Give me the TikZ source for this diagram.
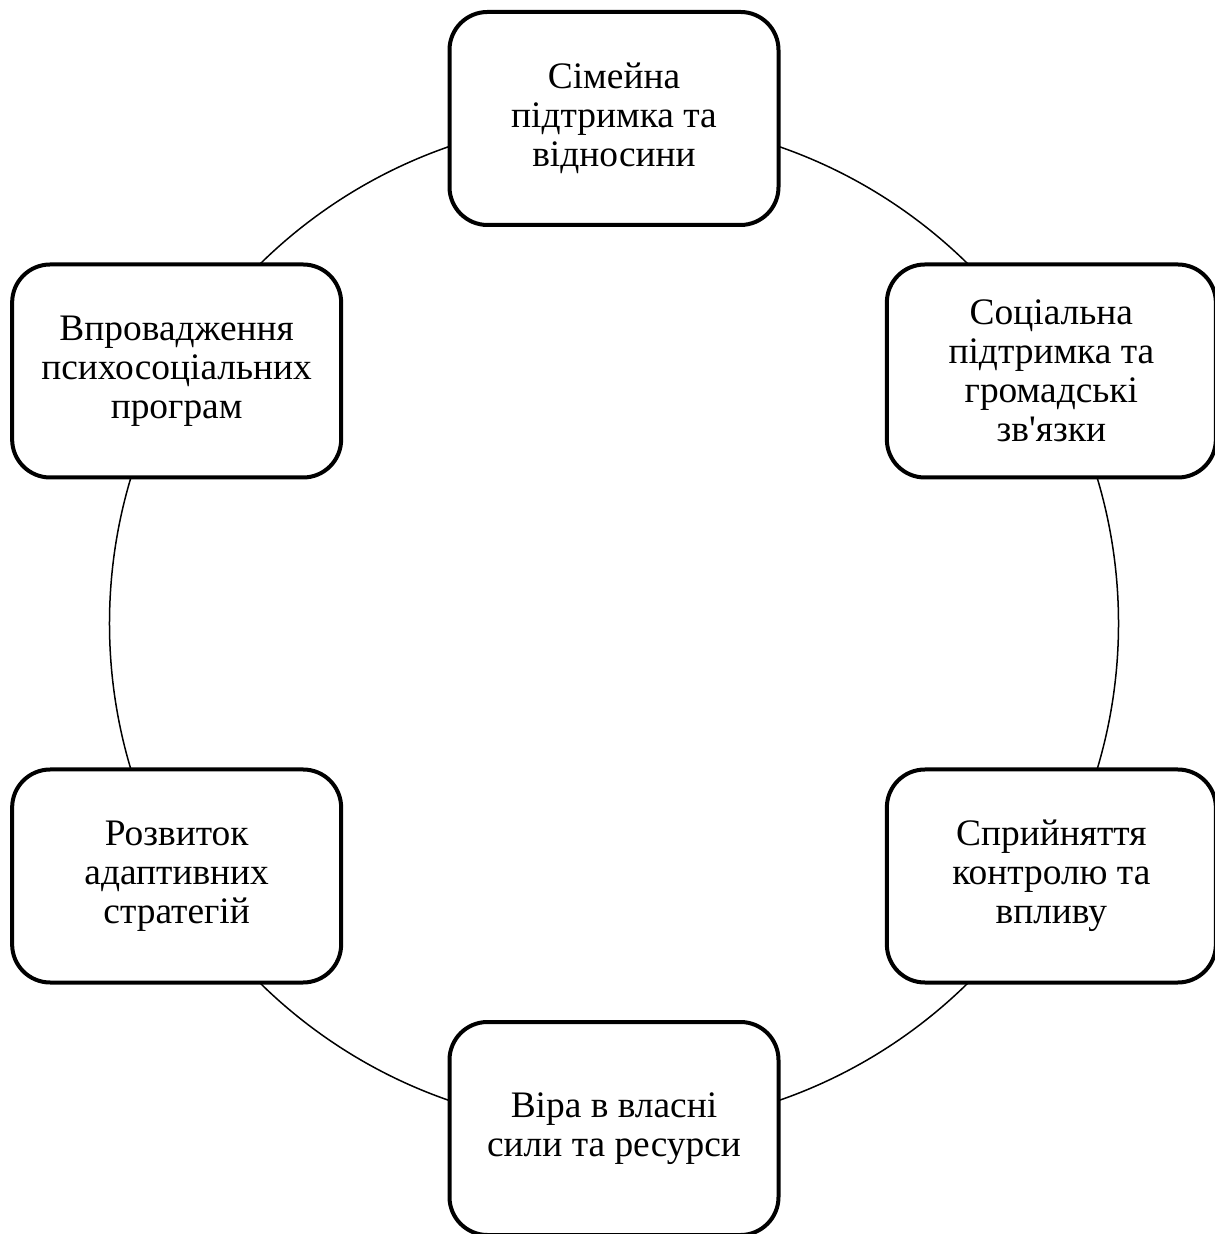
\documentclass[tikz,border=0pt]{standalone}
\usepackage{fontspec}
\setmainfont{Liberation Serif}
\usetikzlibrary{positioning}

\begin{document}
\begin{tikzpicture}[
    every node/.style={font=\fontsize{18.7}{19.6}\selectfont},
    factor/.style={draw, line width=2pt, rounded corners=19pt, fill=white,
        minimum width=164.5pt, minimum height=106.5pt, align=center, inner sep=4pt},
    ring/.style={line width=0.75pt}
]
\useasboundingbox (-307pt, 311.75pt) rectangle (300pt, -305.25pt);

% ============ RING ============
\coordinate (c) at (0, 0);
\draw[ring] (c) circle (252.25pt);

% ============ FACTORS ============
\node[factor] (family) at (90:252.5pt) {Сімейна\\підтримка та\\відносини};
\node[factor] (social) at (30:252.5pt) {Соціальна\\підтримка та\\громадські\\зв\textquotesingle язки};
\node[factor] (control) at (-30:252.5pt) {Сприйняття\\контролю та\\впливу};
\node[factor] (faith) at (-90:252.5pt) {Віра в власні\\сили та ресурси};
\node[factor] (adapt) at (-150:252.5pt) {Розвиток\\адаптивних\\стратегій};
\node[factor] (programs) at (150:252.5pt) {Впровадження\\психосоціальних\\програм};

\end{tikzpicture}
\end{document}
